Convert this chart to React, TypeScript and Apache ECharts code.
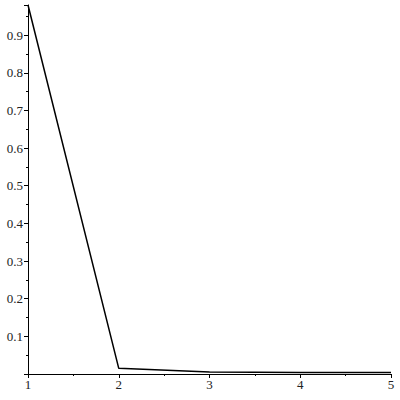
import React, { useEffect, useRef } from "react";
import * as echarts from "echarts";

const xValues = [1, 2, 3, 4, 5];
const yValues = [0.98, 0.015, 0.005, 0.004, 0.004];

export default function App() {
  const ref = useRef<HTMLDivElement>(null);
  useEffect(() => {
    document.body.style.margin = "0";
    const chart = echarts.init(ref.current!, null, { renderer: "svg" });
    const font = { fontFamily: "Liberation Serif", fontSize: 13, color: "#222" };
    chart.setOption({
      animation: false,
      backgroundColor: "#fff",
      grid: { left: 28, right: 9, top: 5, bottom: 26, containLabel: false },
      xAxis: {
        type: "value",
        min: 1,
        max: 5,
        interval: 1,
        axisLine: { show: true, onZero: false, lineStyle: { color: "#000", width: 1 } },
        axisTick: { show: true, length: 4, lineStyle: { color: "#000" } },
        minorTick: { show: true, splitNumber: 2, length: 2, lineStyle: { color: "#000" } },
        splitLine: { show: false },
        axisLabel: { ...font, margin: 4 },
      },
      yAxis: {
        type: "value",
        min: 0,
        max: 0.98,
        interval: 0.1,
        axisLine: { show: true, onZero: false, lineStyle: { color: "#000", width: 1 } },
        axisTick: { show: true, length: 4, lineStyle: { color: "#000" } },
        minorTick: { show: true, splitNumber: 2, length: 2, lineStyle: { color: "#000" } },
        splitLine: { show: false },
        axisLabel: {
          ...font,
          margin: 5,
          showMaxLabel: false,
          formatter: (v: number) => (v < 0.05 ? "" : v.toFixed(1)),
        },
      },
      series: [
        {
          type: "line",
          data: xValues.map((x, i) => [x, yValues[i]]),
          showSymbol: false,
          lineStyle: { color: "#000", width: 1.5 },
          clip: false,
        },
      ],
    });
    return () => chart.dispose();
  }, []);
  return <div ref={ref} style={{ width: 400, height: 400 }} />;
}
